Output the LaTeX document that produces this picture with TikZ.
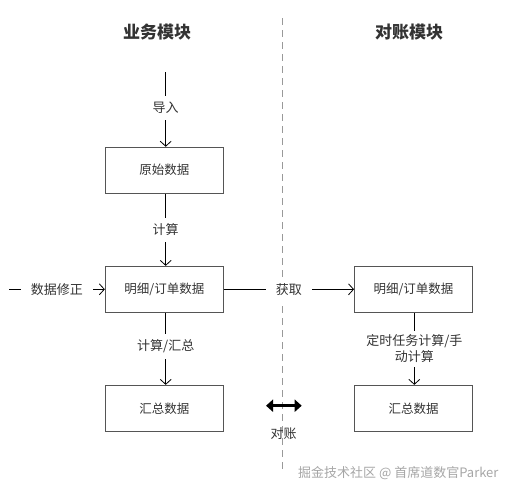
\documentclass[tikz,border=0pt]{standalone}
\usepackage{fontspec}
\setmainfont{Noto Sans CJK SC}
\usetikzlibrary{arrows.meta}
\definecolor{txt}{HTML}{333333}
\definecolor{boxline}{HTML}{555555}
\tikzset{
  box/.style={draw=boxline, line width=0.9pt, minimum width=118pt, minimum height=46pt, inner sep=0pt, font=\fontsize{12.5}{14}\selectfont, text=txt},
  lbl/.style={fill=white, inner xsep=10pt, inner ysep=6pt, font=\fontsize{13}{16}\selectfont, text=txt},
  ttl/.style={font=\fontsize{17}{20}\selectfont\bfseries, text=txt},
  conn/.style={draw=black, line width=0.8pt, -{Straight Barb[length=5pt,width=11pt,line width=0.8pt]}},
}
\begin{document}
\begin{tikzpicture}[x=1pt,y=-1pt]
\useasboundingbox (0,0) rectangle (510,493);
% divider
\draw[gray!80, line width=0.8pt, dash pattern=on 7pt off 5pt] (282.7,18) -- (282.7,470);
% titles
\node[ttl] (t1) at (157,32) {业务模块};
\node[ttl] (t2) at (409,32) {对账模块};
% boxes
\node[box] (raw) at (164.3,170.2) {原始数据};
\node[box] (det) at (164.3,289.3) {明细/订单数据};
\node[box] (sum) at (164.3,408.3) {汇总数据};
\node[box] (rdet) at (413.5,289.3) {明细/订单数据};
\node[box] (rsum) at (413.5,408.3) {汇总数据};
% free ends
\coordinate (imp) at (165.7,72);
\coordinate (fix) at (9,289.3);
% connectors
\draw[conn] (imp) -- (imp |- raw.north) node[lbl, pos=0.48] {导入};
\draw[conn] (raw.south -| imp) -- (det.north -| imp) node[lbl, midway] {计算};
\draw[conn] (fix) -- (det.west) node[lbl, pos=0.5] {数据修正};
\draw[conn] (det.east) -- (rdet.west) node[lbl, pos=0.5] {获取};
\draw[conn] (det.south -| imp) -- (sum.north -| imp) node[lbl, pos=0.47] {计算/汇总};
\draw[conn] (rdet.south -| 414.3,0) -- (rsum.north -| 414.3,0) node[lbl, pos=0.5, align=center, inner ysep=4pt] {定时任务计算/手\\动计算};
% reconcile arrow
\coordinate (ra) at (266,405.7);
\coordinate (rb) at (301.7,405.7);
\draw[line width=3.2pt, {Triangle[length=7pt,width=12pt]}-{Triangle[length=7pt,width=12pt]}] (ra) -- (rb);
\node[font=\fontsize{13}{14}\selectfont, text=txt] (dz) at (283.5,433.5) {对账};
% watermark
\node[font=\fontsize{13}{14}\selectfont, text=gray!70, anchor=west, inner sep=0pt] (wm) at (298,472.7) {掘金技术社区 @ 首席道数官Parker};
\end{tikzpicture}
\end{document}
